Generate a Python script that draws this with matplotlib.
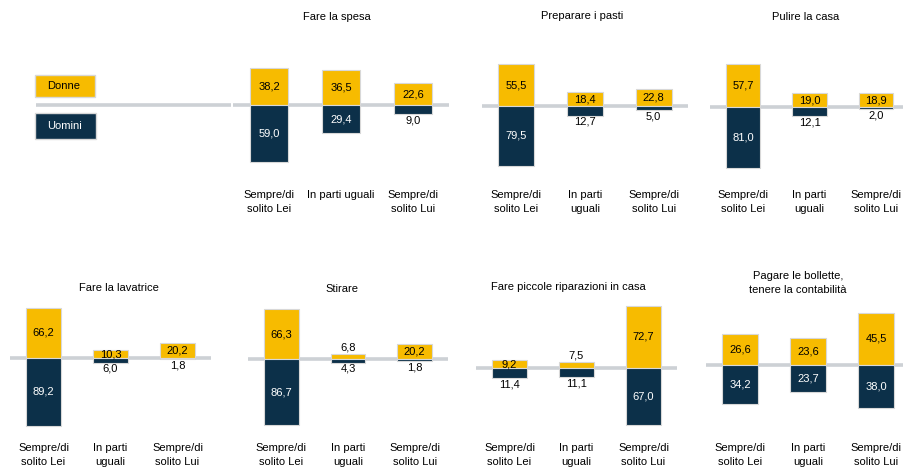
import matplotlib
matplotlib.use("Agg")
import matplotlib.pyplot as plt
from matplotlib.patches import Rectangle
import matplotlib.transforms as mtransforms

plt.rcParams['font.family'] = ['Liberation Sans', 'DejaVu Sans']
plt.rcParams['font.size'] = 8

# dati
titoli = ["Fare la spesa", "Preparare i pasti", "Pulire la casa",
          "Fare la lavatrice", "Stirare", "Fare piccole riparazioni in casa",
          "Pagare le bollette,\ntenere la contabilità"]
categorie = ["Sempre/di\nsolito Lei", "In parti\nuguali", "Sempre/di\nsolito Lui"]
categorie_spesa = ["Sempre/di\nsolito Lei", "In parti uguali", "Sempre/di\nsolito Lui"]
donne = [[38.2, 36.5, 22.6], [55.5, 18.4, 22.8], [57.7, 19.0, 18.9],
         [66.2, 10.3, 20.2], [66.3, 6.8, 20.2], [9.2, 7.5, 72.7],
         [26.6, 23.6, 45.5]]
uomini = [[59.0, 29.4, 9.0], [79.5, 12.7, 5.0], [81.0, 12.1, 2.0],
          [89.2, 6.0, 1.8], [86.7, 4.3, 1.8], [11.4, 11.1, 67.0],
          [34.2, 23.7, 38.0]]
serie = ["Donne", "Uomini"]

# scale dei singoli grafici (come nell'originale, ognuno ha la sua)
limiti_y = [(-72.9, 52.1), (-91.4, 67.5), (-90.3, 69.7),
            (-101.3, 76.3), (-99.6, 78.0), (-78.3, 79.4), (-61.7, 56.8)]

ARANCIO = "#F7BB00"
BLU = "#0C3049"
GRIGIO = "#CDD1D5"
W, H = 904, 467

# riquadri in pixel: x0, x1, y alto, y basso
riquadri = [(233, 449, 55, 175), (482, 688, 55, 175), (710, 909, 55, 175),
            (10, 211, 300, 435), (248, 448, 300, 435), (476, 677, 300, 435),
            (706, 910, 300, 435)]
pos_titoli = [(337, 17), (582, 16), (806, 17), (119, 288), (342, 289),
              (568, 287), (798, 283)]
y_categorie = [190, 190, 190, 443, 443, 443, 443]

fig = plt.figure(figsize=(W / 100, H / 100), dpi=100)


def fmt(v):
    return f"{v:.1f}".replace(".", ",")


for i in range(7):
    x0, x1, yt, yb = riquadri[i]
    ax = fig.add_axes([x0 / W, 1 - yb / H, (x1 - x0) / W, (yb - yt) / H])
    ax.set_xlim(-0.5, 2.5)
    ax.set_ylim(*limiti_y[i])
    ax.axis("off")
    ax.axhline(0, color=GRIGIO, lw=2.6, zorder=1)
    xs = range(3)
    ax.bar(xs, donne[i], width=0.52, color=ARANCIO, edgecolor="#d8d8d8",
           lw=0.8, zorder=2)
    ax.bar(xs, [-u for u in uomini[i]], width=0.52, color=BLU,
           edgecolor="#d8d8d8", lw=0.8, zorder=2)
    for x, d, u in zip(xs, donne[i], uomini[i]):
        if d >= 8:
            ax.text(x, d / 2, fmt(d), ha="center", va="center", color="black", zorder=3)
        else:
            ax.annotate(fmt(d), (x, d), xytext=(0, 1), textcoords="offset points",
                        ha="center", va="bottom", color="black", zorder=3)
        if u >= 13:
            ax.text(x, -u / 2, fmt(u), ha="center", va="center", color="white", zorder=3)
        else:
            ax.annotate(fmt(u), (x, -u), xytext=(0, -1), textcoords="offset points",
                        ha="center", va="top", color="black", zorder=3)
    tr = mtransforms.blended_transform_factory(ax.transData, fig.transFigure)
    etichette = categorie_spesa if i == 0 else categorie
    for x, lab in zip(xs, etichette):
        ax.text(x, 1 - y_categorie[i] / H, lab, transform=tr, ha="center",
                va="top", linespacing=1.55)
    tx, ty = pos_titoli[i]
    fig.text(tx / W, 1 - ty / H, titoli[i], ha="center", va="center",
             linespacing=1.4)

# legenda
leg = fig.add_axes([0, 0, 1, 1], zorder=-1)
leg.set_xlim(0, W)
leg.set_ylim(H, 0)
leg.axis("off")
leg.plot([36, 231], [105, 105], color=GRIGIO, lw=2.6, solid_capstyle="butt")
leg.add_patch(Rectangle((35, 75), 60, 22, facecolor=ARANCIO, edgecolor="#d8d8d8", lw=1))
leg.add_patch(Rectangle((35, 113), 61, 26, facecolor=BLU, edgecolor="#d8d8d8", lw=1))
leg.text(64, 86, serie[0], ha="center", va="center", color="black")
leg.text(65, 126, serie[1], ha="center", va="center", color="white")

fig.savefig("out.png", dpi=100)
